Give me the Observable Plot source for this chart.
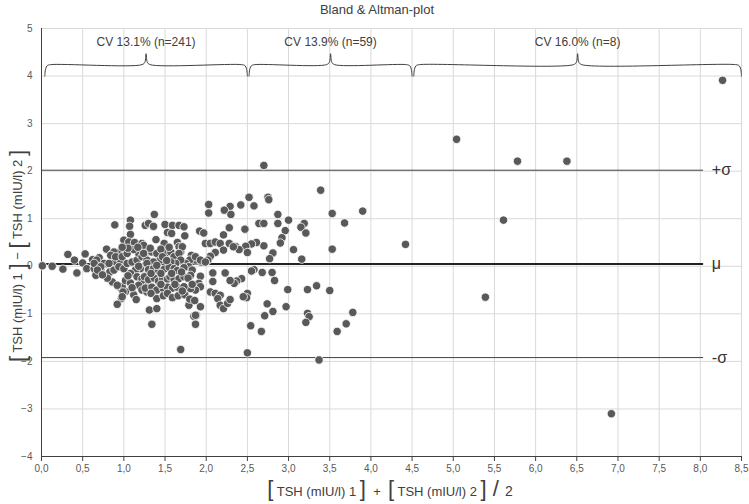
<!DOCTYPE html>
<html>
<head>
<meta charset="utf-8">
<script src="https://cdn.jsdelivr.net/npm/d3@7"></script>
<script src="https://cdn.jsdelivr.net/npm/@observablehq/plot@0.6"></script>
<style>
  body { margin: 0; background: #fff; }
</style>
</head>
<body>
<div id="chart"></div>
<script>
// mean of the two TSH readings vs. their difference, one [avg, diff] pair per sample
const group1 = [
  [0.01,0.01],[0.13,0.0],[0.26,-0.06],[0.32,0.25],[0.40,0.13],[0.43,-0.14],[0.53,0.26],[0.50,0.07],
  [0.55,-0.05],[0.62,0.14],[0.64,-0.05],[0.66,-0.19],[0.70,0.18],[0.72,-0.07],[0.79,0.36],[0.77,0.04],
  [0.83,-0.12],[0.86,0.27],[0.89,0.09],[0.94,0.29],[0.96,0.13],[0.89,0.87],[0.86,-0.33],[0.93,-0.42],
  [0.96,-0.45],[1.02,-0.53],[0.97,-0.68],[0.92,-0.80],[1.08,0.97],[1.07,0.84],[1.08,0.67],[1.00,0.55],
  [1.06,0.51],[1.13,0.50],[1.26,0.86],[1.30,0.90],[1.22,0.48],[1.24,0.41],[1.28,0.30],[0.67,0.13],
  [0.64,0.06],[0.88,0.30],[0.84,0.23],[0.90,0.20],[0.98,0.20],[1.04,0.27],[0.76,0.06],[0.72,-0.01],
  [0.68,-0.08],[0.82,0.06],[0.88,-0.08],[0.94,-0.01],[1.00,-0.05],[1.04,0.06],[1.10,0.09],[1.16,0.13],
  [1.18,0.27],[1.22,0.20],[1.28,0.13],[1.26,0.02],[1.20,-0.05],[1.14,-0.08],[1.08,-0.15],[1.16,-0.22],
  [1.22,-0.26],[1.28,-0.19],[1.24,-0.36],[1.18,-0.40],[1.28,-0.43],[1.22,-0.50],[1.28,-0.54],[0.98,-0.43],
  [0.99,-0.54],[0.92,-0.40],[1.02,-0.30],[1.08,-0.35],[1.12,-0.60],[1.05,-0.20],[0.80,-0.25],[0.74,-0.18],
  [2.03,1.30],[2.03,1.12],[2.29,1.26],[2.22,1.18],[2.30,1.09],[1.37,1.09],[1.36,0.83],[1.50,0.88],
  [1.59,0.86],[1.67,0.86],[1.73,0.83],[1.53,0.71],[1.58,0.69],[1.74,0.64],[1.92,0.74],[1.97,0.70],
  [2.28,0.81],[2.21,0.66],[1.39,0.56],[1.65,0.50],[1.67,0.41],[1.69,0.30],[1.99,0.48],[2.05,0.48],
  [2.11,0.51],[2.17,0.48],[2.21,0.34],[2.28,0.48],[2.36,0.41],[2.11,0.29],[2.05,0.21],[2.02,0.13],
  [1.94,0.09],[1.87,0.13],[1.82,0.23],[1.80,0.13],[1.75,0.06],[1.79,-0.01],[1.83,-0.08],[1.81,-0.19],
  [1.93,-0.21],[1.91,-0.36],[1.93,-0.43],[1.87,-0.50],[1.81,-0.47],[1.79,-0.82],[1.85,-1.05],[1.88,-1.03],
  [1.87,-1.22],[1.69,-1.75],[1.31,-0.92],[1.34,-1.22],[2.08,-0.14],[2.08,-0.32],[2.23,-0.14],[2.05,-0.54],
  [2.11,-0.57],[2.17,-0.61],[2.14,-0.68],[2.17,-0.82],[2.21,-0.89],[2.26,-0.78],[1.36,0.84],[1.24,0.44],
  [1.49,0.48],[1.71,0.41],[1.24,0.27],[1.34,0.30],[1.40,0.27],[1.44,0.13],[1.36,0.09],[1.28,0.06],
  [1.51,0.27],[1.57,0.30],[1.61,0.20],[1.67,0.27],[1.69,0.13],[1.63,0.06],[1.57,0.09],[1.87,0.20],
  [1.93,0.13],[1.99,0.09],[1.30,-0.07],[1.36,-0.05],[1.42,-0.09],[1.49,-0.06],[1.55,-0.02],[1.61,-0.05],
  [1.65,-0.09],[1.73,-0.03],[1.25,-0.22],[1.30,-0.28],[1.37,-0.25],[1.42,-0.31],[1.47,-0.25],[1.53,-0.27],
  [1.56,-0.22],[1.61,-0.28],[1.67,-0.26],[1.73,-0.22],[1.78,-0.25],[1.26,-0.46],[1.34,-0.44],[1.40,-0.50],
  [1.48,-0.47],[1.53,-0.44],[1.59,-0.46],[1.65,-0.44],[1.73,-0.43],[1.83,-0.38],[1.33,-0.57],[1.40,-0.68],
  [1.48,-0.62],[1.53,-0.57],[1.59,-0.66],[1.66,-0.62],[1.74,-0.60],[1.80,-0.69],[1.86,-0.72],[1.40,-0.89],
  [1.93,-0.85],[1.12,0.35],[1.17,0.40],[1.32,0.38],[1.45,0.36],[1.55,0.40],[1.47,0.20],[1.52,0.12],
  [1.40,0.02],[1.18,0.00],[1.33,-0.15],[1.45,-0.15],[1.58,-0.15],[1.70,-0.12],[1.05,0.38],[0.98,0.40],
  [1.10,-0.45],[1.15,-0.70],[1.45,-0.38],[1.62,-0.38],[1.71,-0.52],[0.98,-0.64],[1.87,-1.03]
];
const group2 = [
  [2.70,2.12],[3.39,1.60],[3.90,1.16],[3.53,1.11],[3.68,0.91],[4.42,0.46],[3.53,0.36],[2.52,1.45],
  [2.75,1.45],[2.76,1.40],[2.42,1.29],[2.58,1.27],[2.87,1.09],[3.00,0.97],[2.87,0.90],[2.64,0.90],
  [2.70,0.90],[3.19,0.90],[3.15,0.82],[3.21,0.70],[2.96,0.75],[2.47,0.78],[2.92,0.60],[2.90,0.49],
  [3.06,0.35],[3.16,0.15],[2.81,0.28],[2.77,0.16],[2.70,0.43],[2.61,0.50],[2.55,0.47],[2.48,0.42],
  [2.50,0.29],[2.40,0.35],[2.33,0.41],[2.58,-0.07],[2.55,-0.10],[2.68,-0.13],[2.80,-0.13],[2.83,-0.30],
  [2.43,-0.26],[2.37,-0.31],[2.34,-0.36],[2.29,-0.30],[2.99,-0.49],[3.23,-0.49],[3.34,-0.41],[3.50,-0.51],
  [2.50,-0.57],[2.49,-0.66],[2.45,-0.64],[2.29,-0.70],[2.74,-0.79],[2.97,-0.85],[2.81,-0.95],[2.71,-1.04],
  [3.23,-0.99],[3.25,-1.06],[3.21,-1.18],[3.78,-0.97],[3.70,-1.21],[3.59,-1.37],[2.54,-1.25],[2.67,-1.37],
  [2.50,-1.82],[3.37,-1.97]
];
const group3 = [
  [5.04,2.67],[5.78,2.21],[6.38,2.21],[5.61,0.97],[5.39,-0.65],[6.92,-3.10],[8.27,3.91]
];

const xTicks = [0,0.5,1,1.5,2,2.5,3,3.5,4,4.5,5,5.5,6,6.5,7,7.5,8,8.5];
const yTicks = [-4,-3,-2,-1,0,1,2,3,4,5];

const groupBounds = [[0.04, 2.5], [2.52, 4.5], [4.52, 8.5]];
const cvLabels = ["CV 13.1% (n=241)", "CV 13.9% (n=59)", "CV 16.0% (n=8)"];

const limitValues = [2.02, 0.05, -1.92];
const limitLabels = ["+σ", "μ", "-σ"];

const title = "Bland & Altman-plot";

const data = [...group1, ...group2, ...group3].map(([avg, diff]) => ({avg, diff}));

// curly brace over each group
const braces = groupBounds.flatMap(([a, b], g) => {
  const m = (a + b) / 2;
  return [
    [a, 4.0], [a + 0.01, 4.15], [a + 0.03, 4.22], [a + 0.07, 4.24],
    [m - 0.05, 4.24], [m - 0.015, 4.29], [m, 4.47], [m + 0.015, 4.29], [m + 0.05, 4.24],
    [b - 0.07, 4.24], [b - 0.03, 4.22], [b - 0.01, 4.15], [b, 4.0]
  ].map(([x, y]) => ({g, x, y}));
});

const chart = Plot.plot({
  width: 749,
  height: 504,
  marginTop: 28,
  marginBottom: 48,
  marginLeft: 41,
  marginRight: 8,
  style: {fontFamily: "'Liberation Sans Narrow', 'Liberation Sans', sans-serif", color: "#595959", background: "#fff"},
  x: {domain: [0, 8.5], label: null},
  y: {domain: [-4, 5], label: null},
  marks: [
    Plot.gridX(xTicks, {stroke: "#d9d9d9", strokeOpacity: 1}),
    Plot.gridY(yTicks, {stroke: "#d9d9d9", strokeOpacity: 1}),
    Plot.axisX(xTicks, {tickSize: 5, tickPadding: 3, fontSize: 10, stroke: "#404040",
      tickFormat: d => d.toFixed(1).replace(".", ",")}),
    Plot.axisY(yTicks, {tickSize: 0, tickPadding: 9, fontSize: 10}),
    Plot.ruleX([0], {stroke: "#404040"}),
    Plot.ruleY([-4], {stroke: "#404040"}),
    Plot.ruleY([limitValues[0], limitValues[2]], {x1: () => 0, x2: () => 8.04, stroke: "#404040", strokeWidth: 1}),
    Plot.ruleY([limitValues[1]], {x1: () => 0, x2: () => 8.04, stroke: "#222", strokeWidth: 2}),
    Plot.text(limitLabels, {x: () => 8.14, y: (d, i) => limitValues[i], text: d => d, textAnchor: "start",
      fontSize: 16, fill: "#333", fontFamily: "'Liberation Sans', sans-serif"}),
    Plot.line(braces, {x: "x", y: "y", z: "g", stroke: "#404040", strokeWidth: 1, curve: "catmull-rom"}),
    Plot.text(cvLabels, {x: (d, i) => (groupBounds[i][0] + groupBounds[i][1]) / 2, y: () => 4.71, text: d => d,
      fontSize: 12, fill: "#404040", fontFamily: "'Liberation Sans', sans-serif"}),
    Plot.dot(data, {x: "avg", y: "diff", r: 4.2, fill: "#595959", stroke: "#fff", strokeWidth: 0.8})
  ]
});

const svg = d3.select(chart);

svg.append("text")
  .attr("x", 377).attr("y", 14)
  .attr("text-anchor", "middle")
  .attr("font-size", 13).attr("fill", "#404040")
  .text(title);

// axis titles with tall brackets
const yParts = [["[", 22], [" TSH (mIU/l) 1 ", 13], ["]", 22], [" − ", 13], ["[", 22], [" TSH (mIU/l) 2 ", 13], ["]", 22]];
const yl = svg.append("text")
  .attr("transform", "translate(19,256) rotate(-90)")
  .attr("text-anchor", "middle").attr("dominant-baseline", "middle")
  .attr("fill", "#404040");
yParts.forEach(([t, s]) => yl.append("tspan").attr("font-size", s).text(t));

const xParts = [["[", 22], [" TSH (mIU/l) 1 ", 13], ["]", 22], ["  +  ", 13], ["[", 22], [" TSH (mIU/l) 2 ", 13], ["]", 22], [" / ", 22], ["2", 14]];
const xl = svg.append("text")
  .attr("x", 390).attr("y", 496)
  .attr("text-anchor", "middle")
  .attr("fill", "#404040");
xParts.forEach(([t, s]) => xl.append("tspan").attr("font-size", s).text(t));

d3.select("#chart").append(() => chart);
</script>
</body>
</html>
